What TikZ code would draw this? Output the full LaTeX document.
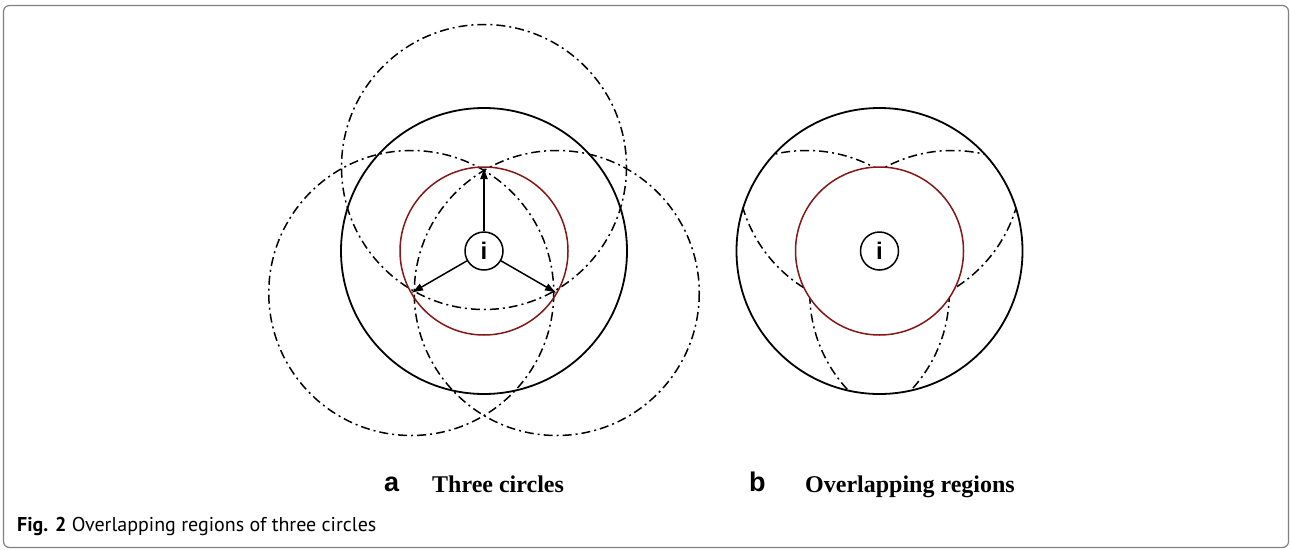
\documentclass[tikz,border=0pt]{standalone}
\usepackage{fontspec}
\setmainfont{Liberation Serif}
\newfontfamily\arialf{Liberation Sans}
\newfontfamily\capf{PT Sans}
\usetikzlibrary{arrows.meta}
\definecolor{darkred}{RGB}{132,22,22}
\definecolor{framegray}{RGB}{128,128,128}
\tikzset{
  bigcirc/.style={draw=black,line width=1.8pt},
  redcirc/.style={draw=darkred,line width=1.5pt},
  dashdot/.style={draw=black,line width=1.5pt,dash pattern=on 9pt off 4pt on 2pt off 4pt},
  inode/.style={circle,draw=black,line width=1.5pt,minimum size=38pt,inner sep=0pt,font=\arialf\bfseries\fontsize{24}{24}\selectfont},
  arr/.style={line width=1.5pt,-{Latex[length=12pt,width=8pt]}},
  lbl/.style={inner sep=0pt,anchor=base west},
}
\begin{document}
\begin{tikzpicture}[x=1pt,y=-1pt]
\useasboundingbox (0,0) rectangle (1290,549);
\draw[framegray,line width=1.2pt,rounded corners=6pt] (3.5,5.5) rectangle (1288.5,547.5);

% ---------- (a) three circles ----------
\coordinate (Oa) at (484,251);
\path (Oa) ++(0,-84) coordinate (va1);
\path (Oa) ++(-72.75,42) coordinate (va2);
\path (Oa) ++(72.75,42) coordinate (va3);
\draw[dashdot] (va1) circle[radius=142.5];
\draw[dashdot] (va2) circle[radius=142.5];
\draw[dashdot] (va3) circle[radius=142.5];
\draw[bigcirc] (Oa) circle[radius=143];
\draw[redcirc] (Oa) circle[radius=84];
\node[inode] (ia) at (Oa) {i};
\draw[arr] (ia) -- (va1);
\draw[arr] (ia) -- (va2);
\draw[arr] (ia) -- (va3);

% ---------- (b) overlapping regions ----------
\coordinate (Ob) at (879.5,251);
\path (Ob) ++(0,-84) coordinate (vb1);
\path (Ob) ++(-72.75,42) coordinate (vb2);
\path (Ob) ++(72.75,42) coordinate (vb3);
\begin{scope}
  \clip (Ob) circle[radius=143];
  \draw[dashdot] (vb1) circle[radius=142.5];
  \draw[dashdot] (vb2) circle[radius=142.5];
  \draw[dashdot] (vb3) circle[radius=142.5];
\end{scope}
\fill[white] (Ob) circle[radius=84];
\draw[bigcirc] (Ob) circle[radius=143];
\draw[redcirc] (Ob) circle[radius=84];
\node[inode] (ib) at (Ob) {i};

% ---------- labels ----------
\node[lbl,font=\arialf\bfseries\fontsize{27}{27}\selectfont] (la) at (384,491) {a};
\node[lbl,font=\bfseries\fontsize{24}{24}\selectfont] (ta) at (432,492) {Three circles};
\node[lbl,font=\arialf\bfseries\fontsize{27}{27}\selectfont] (lb) at (749,491) {b};
\node[lbl,font=\bfseries\fontsize{24}{24}\selectfont] (tb) at (805,492) {Overlapping regions};
\node[lbl,font=\capf\fontsize{20}{20}\selectfont] (cap) at (17,531) {\textbf{Fig. 2} Overlapping regions of three circles};
\end{tikzpicture}
\end{document}
